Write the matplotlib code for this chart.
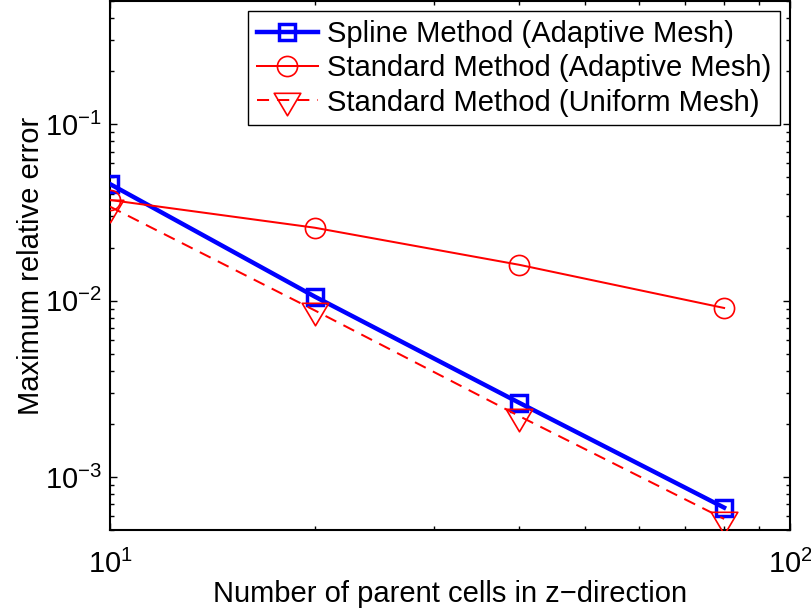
import numpy as np
import matplotlib
matplotlib.use("Agg")
import matplotlib.pyplot as plt
from matplotlib.path import Path
from matplotlib.ticker import LogLocator, NullFormatter

plt.rcParams['font.family'] = ['Liberation Sans', 'DejaVu Sans']
plt.rcParams['mathtext.fontset'] = 'custom'
plt.rcParams['mathtext.rm'] = 'Liberation Sans'
plt.rcParams['mathtext.it'] = 'Liberation Sans:italic'
plt.rcParams['mathtext.bf'] = 'Liberation Sans:bold'

# Number of parent cells in z-direction
cells = [10, 20, 40, 80]

# Maximum relative error for each method
spline_adaptive = [0.0458, 0.01054, 0.00263, 0.00067]
standard_adaptive = [0.0372, 0.0259, 0.01595, 0.00908]
standard_uniform = [0.0341, 0.0088, 0.00221, 0.000578]

labels = ["Spline Method (Adaptive Mesh)",
          "Standard Method (Adaptive Mesh)",
          "Standard Method (Uniform Mesh)"]

FS = 21

# Downward triangle anchored at its centroid
tri_down = Path([(-1.0, 0.54), (1.0, 0.54), (0.0, -1.15), (-1.0, 0.54)],
                [Path.MOVETO, Path.LINETO, Path.LINETO, Path.CLOSEPOLY])

fig = plt.figure(figsize=(8.12, 6.13), dpi=100)
ax = fig.add_axes([110 / 812, 83 / 613, 680 / 812, 529 / 613])

ax.plot(cells, spline_adaptive, color='#0000ff', lw=3.2, marker='s',
        ms=12, mew=2.5, mfc='none', mec='#0000ff', label=labels[0], zorder=3)
ax.plot(cells, standard_adaptive, color='#ff0000', lw=1.45, marker='o',
        ms=14.5, mew=1.2, mfc='none', mec='#ff0000', label=labels[1], zorder=3)
ax.plot(cells, standard_uniform, color='#ff0000', lw=1.45, ls=(0, (6, 4)),
        marker=tri_down, ms=22, mew=1.2, mfc='none', mec='#ff0000',
        label=labels[2], zorder=3)

ax.set_xscale('log')
ax.set_yscale('log')
ax.set_xlim(10, 100)
ax.set_ylim(5e-4, 0.5)

ax.xaxis.set_major_locator(LogLocator(base=10, numticks=10))
ax.xaxis.set_minor_locator(LogLocator(base=10, subs=np.arange(2, 10), numticks=20))
ax.xaxis.set_minor_formatter(NullFormatter())
ax.yaxis.set_major_locator(LogLocator(base=10, numticks=10))
ax.yaxis.set_minor_locator(LogLocator(base=10, subs=np.arange(2, 10), numticks=20))
ax.yaxis.set_minor_formatter(NullFormatter())

ax.tick_params(which='both', direction='in', top=True, right=True,
               width=1.0, colors='black', labelsize=FS)
ax.tick_params(which='major', length=5)
ax.tick_params(which='minor', length=3)
ax.tick_params(axis='x', which='major', pad=14)
ax.tick_params(axis='y', which='major', pad=6)
for sp in ax.spines.values():
    sp.set_linewidth(1.5)

ax.set_xlabel("Number of parent cells in z\u2212direction", fontsize=FS, labelpad=1)
ax.set_ylabel("Maximum relative error", fontsize=FS, labelpad=0)

leg = ax.legend(loc='upper right', bbox_to_anchor=(0.985, 0.981),
                borderaxespad=0, fontsize=FS, frameon=True, fancybox=False,
                framealpha=1, edgecolor='black', handlelength=2.1,
                handletextpad=0.3, borderpad=0.3, labelspacing=0.22)
leg.get_frame().set_linewidth(1.0)

fig.savefig("out.png", dpi=100)
